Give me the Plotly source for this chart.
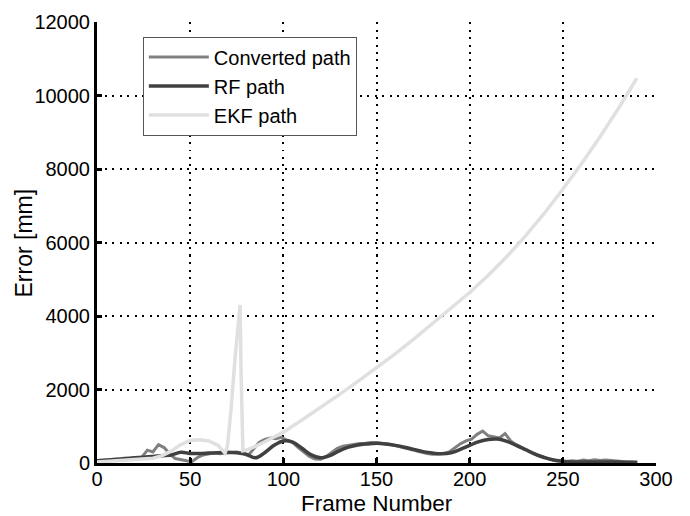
import plotly.graph_objects as go

# Converted path (every 3 frames)
conv_x = list(range(0, 289, 3))
conv_y = [40, 50, 60, 70, 80, 90, 100, 110, 150, 350, 300, 500, 420, 250, 120, 80, 60, 40, 150, 220,
          250, 280, 250, 260, 280, 300, 260, 200, 380, 560, 640, 680, 660, 700, 620, 560, 420, 300, 180, 110,
          100, 180, 300, 400, 460, 490, 510, 530, 540, 560, 550, 540, 520, 490, 450, 420, 380, 330, 290, 260,
          240, 250, 260, 300, 420, 520, 600, 650, 780, 870, 740, 700, 680, 800, 600, 500, 420, 350, 280, 200,
          150, 100, 70, 50, 40, 60, 50, 80, 60, 90, 70, 80, 60, 50, 40, 30, 30]

# RF path (every 5 frames)
rf_x = list(range(0, 291, 5))
rf_y = [60, 80, 100, 120, 140, 160, 180, 200, 220, 290, 260, 260, 270, 280, 290, 280, 240, 140, 280, 480,
        600, 570, 400, 220, 140, 200, 330, 430, 490, 520, 540, 520, 480, 430, 370, 310, 270, 250, 280, 370,
        480, 580, 640, 650, 590, 480, 360, 240, 150, 80, 50, 30, 25, 25, 25, 25, 25, 20, 20]

# EKF path
ekf_x = [0, 10, 20, 30, 35, 40, 45, 50, 55, 60, 65, 68.7, 70, 72, 74, 76, 76.8, 77.3, 77.8, 78.3,
         80, 85, 90, 95, 100, 110, 120, 130, 140, 150, 160, 170, 180, 190, 200, 210, 220, 230, 240,
         250, 260, 270, 280, 289.7]
ekf_y = [30, 70, 110, 130, 200, 330, 500, 610, 630, 600, 480, 270, 450, 1500, 2800, 3900, 4300, 2500, 800, 330,
         350, 450, 580, 700, 840, 1170, 1510, 1860, 2220, 2590, 2970, 3370, 3790, 4210, 4640, 5110, 5620, 6180, 6790,
         7450, 8140, 8880, 9660, 10470]

x_ticks = [0, 50, 100, 150, 200, 250, 300]
y_ticks = [0, 2000, 4000, 6000, 8000, 10000, 12000]
x_title = "Frame Number"
y_title = "Error [mm]"

fig = go.Figure()
fig.add_trace(go.Scatter(x=conv_x, y=conv_y, mode="lines", name="Converted path",
                         line=dict(color="#808080", width=3)))
fig.add_trace(go.Scatter(x=rf_x, y=rf_y, mode="lines", name="RF path",
                         line=dict(color="#404040", width=3.5, shape="spline")))
fig.add_trace(go.Scatter(x=ekf_x, y=ekf_y, mode="lines", name="EKF path",
                         line=dict(color="#e0e0e0", width=3.5)))

font = "Liberation Sans, Arial, sans-serif"
grid = dict(showgrid=True, gridcolor="black", griddash="2px,5.5px", gridwidth=1.5,
            showline=True, linecolor="black", linewidth=3, zeroline=False,
            ticks="inside", ticklen=5, tickwidth=3, tickcolor="black",
            tickfont=dict(size=20), automargin=False)
fig.update_layout(
    width=690, height=516,
    margin=dict(l=97, r=34, t=22, b=53),
    paper_bgcolor="white", plot_bgcolor="white",
    font=dict(family=font, size=20, color="black"),
    showlegend=True,
    legend=dict(x=0.082, y=0.967, xanchor="left", yanchor="top",
                bgcolor="white", bordercolor="#555555", borderwidth=1,
                font=dict(size=20), tracegroupgap=0, itemwidth=60),
    xaxis=dict(range=[0, 300], tickvals=x_ticks, ticktext=[str(v) for v in x_ticks],
               ticklabelstandoff=-4, **grid),
    yaxis=dict(range=[0, 12000], tickvals=y_ticks, ticktext=[str(v) for v in y_ticks], **grid),
    annotations=[
        dict(text=x_title, xref="paper", yref="paper", x=0.5, y=-0.0918,
             xanchor="center", yanchor="middle", showarrow=False, font=dict(size=22.5)),
        dict(text=y_title, xref="paper", yref="paper", x=-0.1306, y=0.5, textangle=-90,
             xanchor="center", yanchor="middle", showarrow=False, font=dict(size=23)),
    ],
)

fig.write_html("out.html")
